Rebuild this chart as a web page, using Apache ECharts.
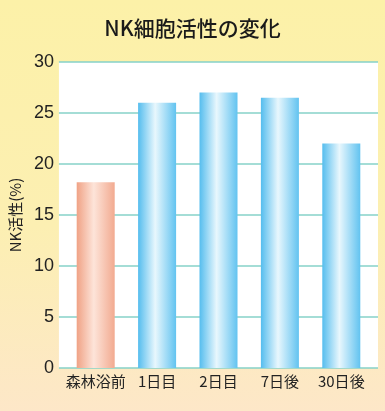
<!DOCTYPE html>
<html>
<head>
<meta charset="utf-8">
<script src="https://cdn.jsdelivr.net/npm/echarts@6/dist/echarts.min.js"></script>
<style>html,body{margin:0;padding:0;}#c{width:385px;height:411px;}</style>
</head>
<body>
<div id="c"></div>
<script>
const titleText = 'NK細胞活性の変化';
const yAxisName = 'NK活性(%)';
const categories = ['森林浴前', '1日目', '2日目', '7日後', '30日後'];
const values = [18.2, 26.0, 27.0, 26.5, 22.0];
const yTicks = [0, 5, 10, 15, 20, 25, 30];

const chart = echarts.init(document.getElementById('c'), null, {renderer: 'canvas'});
const font = '"Noto Sans CJK JP", "Liberation Sans", sans-serif';

function barColor(i) {
  if (i === 0) {
    return new echarts.graphic.LinearGradient(0, 0, 1, 0, [
      {offset: 0, color: '#f0a285'},
      {offset: 0.45, color: '#fde4d9'},
      {offset: 1, color: '#f2aa90'}
    ]);
  }
  return new echarts.graphic.LinearGradient(0, 0, 1, 0, [
    {offset: 0, color: '#55bdee'},
    {offset: 0.45, color: '#e8f7fd'},
    {offset: 1, color: '#62c3f0'}
  ]);
}

chart.setOption({
  backgroundColor: new echarts.graphic.LinearGradient(0, 0, 0, 1, [
    {offset: 0, color: '#fcf1a8'},
    {offset: 0.55, color: '#fcefb2'},
    {offset: 1, color: '#fde7c8'}
  ]),
  animation: false,
  title: {
    text: titleText,
    left: 'center',
    top: 13,
    textStyle: {fontFamily: font, fontSize: 21, fontWeight: 500, color: '#1a1a1a'}
  },
  grid: [
    {left: 53, right: 7, top: 62, bottom: 43, show: true, backgroundColor: '#ffffff', borderWidth: 0},
    {left: 65, right: 13, top: 62, bottom: 43}
  ],
  xAxis: [
    {gridIndex: 0, type: 'category', data: categories, show: false},
    {
      gridIndex: 1, type: 'category', data: categories,
      axisLine: {show: false}, axisTick: {show: false},
      axisLabel: {interval: 0, fontFamily: font, fontSize: 15, color: '#222', margin: 6}
    }
  ],
  yAxis: [
    {
      gridIndex: 0, type: 'value', min: yTicks[0], max: yTicks[yTicks.length - 1], interval: 5,
      name: yAxisName, nameLocation: 'middle', nameGap: 33, nameRotate: 90,
      nameTextStyle: {fontFamily: font, fontSize: 15, color: '#222'},
      axisLine: {show: false}, axisTick: {show: false},
      axisLabel: {fontFamily: '"Liberation Sans", sans-serif', fontSize: 18, color: '#222', margin: 5},
      splitLine: {lineStyle: {color: '#86d2c9', width: 1.5}}
    },
    {gridIndex: 1, type: 'value', min: 0, max: 30, show: false}
  ],
  series: [{
    type: 'bar',
    xAxisIndex: 1,
    yAxisIndex: 1,
    barWidth: 38,
    data: values.map((v, i) => ({value: v, itemStyle: {color: barColor(i)}}))
  }]
});
</script>
</body>
</html>
